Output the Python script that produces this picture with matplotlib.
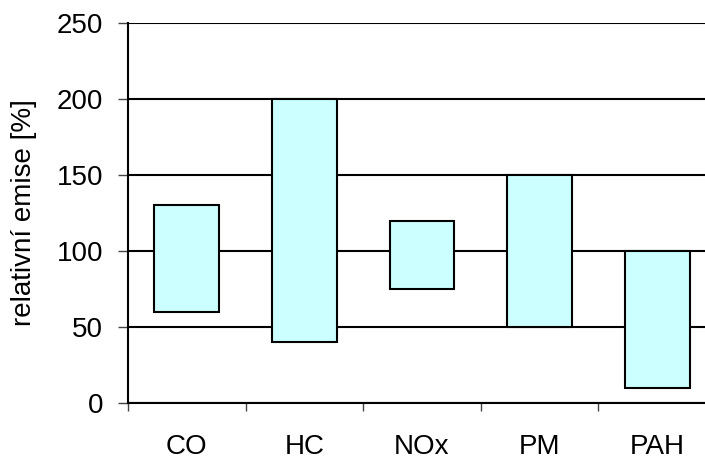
import matplotlib
matplotlib.use("Agg")
import matplotlib.pyplot as plt

categories = ["CO", "HC", "NOx", "PM", "PAH"]
low = [60, 40, 75, 50, 10]
high = [130, 200, 120, 150, 100]
yticks = [0, 50, 100, 150, 200, 250]

plt.rcParams['font.family'] = ['Liberation Sans', 'DejaVu Sans']
fig = plt.figure(figsize=(7.05, 4.59), dpi=100)
ax = fig.add_axes([128/705, 56/459, 1 - 128/705, (403-23)/459])

x = list(range(len(categories)))
heights = [h - l for h, l in zip(high, low)]
ax.bar(x, heights, bottom=low, width=0.55, color="#CCFFFF", edgecolor="black", linewidth=1.5, zorder=3)

ax.set_yticks(yticks)
ax.set_yticklabels([str(v) for v in yticks], fontsize=20)
ax.yaxis.grid(True, color="black", linewidth=1.5, zorder=0)
ax.set_axisbelow(True)

ax.set_xticks([i - 0.5 for i in range(len(categories) + 1)])
ax.set_xticklabels([])
ax.set_xticks(x, minor=True)
ax.set_xticklabels(categories, minor=True, fontsize=20)
ax.tick_params(axis='x', which='minor', length=0, pad=22)
ax.tick_params(axis='x', which='major', length=6, width=1, direction='out', color="#444444")
ax.tick_params(axis='y', length=7, width=1, direction='out', pad=11, color="#444444")

ax.set_ylim(0, 250)
ax.set_xlim(-0.5, -0.5 + 577/117.6)

for s in ["top", "right"]:
    ax.spines[s].set_visible(False)
for s in ["left", "bottom"]:
    ax.spines[s].set_linewidth(1.5)

ax.set_ylabel("relativní emise [%]", fontsize=20, labelpad=14)

fig.savefig("out.png", dpi=100)
